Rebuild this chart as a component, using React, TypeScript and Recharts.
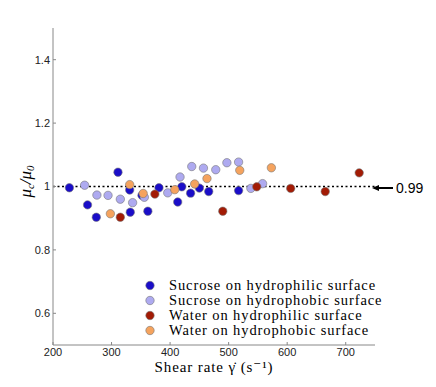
import { ScatterChart, Scatter, XAxis, YAxis, ReferenceLine, Label } from 'recharts';

// Shear rate (1/s) and normalised viscosity mu_c/mu_0
const sucroseHydrophilicX = [228, 259, 274, 311, 331, 332, 352, 362, 381, 413, 420, 435, 450, 466, 517];
const sucroseHydrophilicY = [0.996, 0.942, 0.903, 1.045, 0.989, 0.919, 0.972, 0.922, 0.996, 0.951, 0.999, 0.979, 0.995, 0.984, 0.987];

const sucroseHydrophobicX = [254, 275, 294, 315, 336, 356, 396, 417, 437, 457, 478, 497, 517, 538, 558];
const sucroseHydrophobicY = [1.004, 0.973, 0.972, 0.96, 0.949, 0.966, 0.98, 1.03, 1.063, 1.058, 1.053, 1.075, 1.077, 0.994, 1.009];

const waterHydrophilicX = [315, 374, 490, 548, 606, 665, 723];
const waterHydrophilicY = [0.903, 0.976, 0.922, 0.999, 0.994, 0.984, 1.043];

const waterHydrophobicX = [298, 331, 354, 408, 442, 463, 519, 573];
const waterHydrophobicY = [0.914, 1.006, 0.978, 0.99, 1.008, 1.025, 1.051, 1.059];

const xTicks = [200, 300, 400, 500, 600, 700];
const yTicks = [0.6, 0.8, 1, 1.2, 1.4];
const meanRatio = 1;
const meanLabel = '0.99';

const series = [
  { name: 'Sucrose on hydrophilic surface', xs: sucroseHydrophilicX, ys: sucroseHydrophilicY, color: '#1a0dc8' },
  { name: 'Sucrose on hydrophobic surface', xs: sucroseHydrophobicX, ys: sucroseHydrophobicY, color: '#aeaaf0' },
  { name: 'Water on hydrophilic surface', xs: waterHydrophilicX, ys: waterHydrophilicY, color: '#a21b05' },
  { name: 'Water on hydrophobic surface', xs: waterHydrophobicX, ys: waterHydrophobicY, color: '#f5a35e' },
];

const pairs = (xs: number[], ys: number[]) => xs.map((x, i) => ({ x, y: ys[i] }));

const tickStyle = { fontFamily: '"Liberation Sans", Arial, sans-serif', fontSize: 11, fill: '#222' };
const serif = '"Liberation Serif", "DejaVu Serif", serif';

function Dot(props: any) {
  const { cx, cy, fill } = props;
  return <circle cx={cx} cy={cy} r={4.2} fill={fill} stroke="#777" strokeWidth={0.6} />;
}

function MeanArrow(props: any) {
  const { viewBox } = props;
  const x = viewBox.x + viewBox.width - 3;
  const y = viewBox.y + 1.5;
  return (
    <g>
      <line x1={x + 5} y1={y} x2={x + 21} y2={y} stroke="#000" strokeWidth={2} />
      <polygon points={`${x},${y} ${x + 7},${y - 3} ${x + 7},${y + 3}`} fill="#000" />
      <text x={x + 24} y={y} dy="0.35em" fontFamily='"Liberation Sans", Arial, sans-serif' fontSize={14} fill="#000">
        {meanLabel}
      </text>
    </g>
  );
}

function YTitle(props: any) {
  const { viewBox } = props;
  const cx = 31;
  const cy = viewBox.y + viewBox.height / 2 - 5;
  return (
    <text
      x={cx}
      y={cy}
      transform={`rotate(-90 ${cx} ${cy})`}
      textAnchor="middle"
      fontFamily={serif}
      fontSize={17}
      fontStyle="italic"
      fill="#000"
    >
      <tspan>μ</tspan>
      <tspan fontSize={11} dy={3}>c</tspan>
      <tspan dy={-3}>/μ</tspan>
      <tspan fontSize={11} dy={3}>0</tspan>
    </text>
  );
}

function LegendBox() {
  return (
    <div
      style={{
        position: 'absolute',
        left: 144,
        top: 278,
        fontFamily: serif,
        fontSize: 14.5,
        lineHeight: '15px',
        color: '#000',
      }}
    >
      {series.map((s) => (
        <div key={s.name} style={{ display: 'flex', alignItems: 'center', whiteSpace: 'nowrap' }}>
          <svg width={25} height={15}>
            <circle cx={6} cy={7.5} r={4.2} fill={s.color} stroke="#777" strokeWidth={0.6} />
          </svg>
          <span style={{ letterSpacing: 0.9 }}>{s.name}</span>
        </div>
      ))}
    </div>
  );
}

export default function App() {
  return (
    <div style={{ position: 'absolute', left: 0, top: 0, width: 436, height: 387, background: '#fff' }}>
      <ScatterChart width={436} height={387} margin={{ top: 28, right: 61, bottom: 12, left: 0 }}>
        <XAxis
          type="number"
          dataKey="x"
          domain={[200, 750]}
          ticks={xTicks}
          allowDataOverflow
          stroke="#888"
          tick={tickStyle}
          tickSize={-3}
          tickMargin={6}
          height={30}
        >
          <Label
            value="Shear rate γ̇ (s⁻¹)"
            position="insideBottom"
            offset={3}
            style={{ fontFamily: serif, fontSize: 15, fill: '#000', letterSpacing: 0.9 }}
          />
        </XAxis>
        <YAxis
          type="number"
          dataKey="y"
          domain={[0.5, 1.5]}
          ticks={yTicks}
          allowDataOverflow
          stroke="#888"
          tick={tickStyle}
          tickSize={-3}
          tickMargin={6}
          width={53}
        >
          <Label content={<YTitle />} />
        </YAxis>
        <ReferenceLine y={meanRatio} stroke="#000" strokeWidth={1.5} strokeDasharray="2 2.5" label={<MeanArrow />} />
        {series.map((s) => (
          <Scatter
            key={s.name}
            name={s.name}
            data={pairs(s.xs, s.ys)}
            fill={s.color}
            shape={<Dot />}
            isAnimationActive={false}
          />
        ))}
      </ScatterChart>
      <LegendBox />
    </div>
  );
}
